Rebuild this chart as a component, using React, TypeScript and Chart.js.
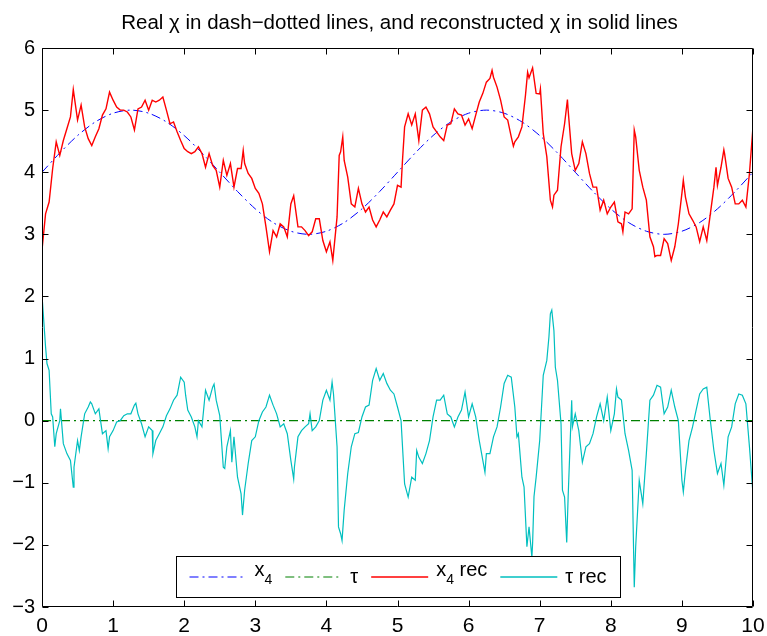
import React, { useEffect, useRef } from "react";
import { Chart, registerables } from "chart.js";

Chart.register(...registerables);

const TITLE = "Real χ in dash−dotted lines, and reconstructed χ in solid lines";
const X_TICKS = [0, 1, 2, 3, 4, 5, 6, 7, 8, 9, 10];
const Y_TICKS = [-3, -2, -1, 0, 1, 2, 3, 4, 5, 6];

const REAL_T = [0, 0.25, 0.5, 0.75, 1, 1.25, 1.5, 1.75, 2, 2.25, 2.5, 2.75, 3, 3.25, 3.5, 3.75, 4, 4.25, 4.5, 4.75, 5,
  5.25, 5.5, 5.75, 6, 6.25, 6.5, 6.75, 7, 7.25, 7.5, 7.75, 8, 8.25, 8.5, 8.75, 9, 9.25, 9.5, 9.75, 10];
const X4_REAL = [4.0, 4.31, 4.59, 4.81, 4.95, 5.0, 4.95, 4.81, 4.59, 4.31, 4.0, 3.69, 3.41, 3.19, 3.05, 3.0, 3.05, 3.19, 3.41, 3.69, 4.0,
  4.31, 4.59, 4.81, 4.95, 5.0, 4.95, 4.81, 4.59, 4.31, 4.0, 3.69, 3.41, 3.19, 3.05, 3.0, 3.05, 3.19, 3.41, 3.69, 4.0];

const TAU_REAL_T = [0, 10];
const TAU_REAL = [0, 0];

const X4_REC: [number, number][] = [
  [0, 2.75], [0.05, 3.33], [0.1, 3.52], [0.15, 4.06], [0.2, 4.49], [0.25, 4.27], [0.3, 4.51], [0.35, 4.7], [0.4, 4.89], [0.44, 5.33],
  [0.5, 4.84], [0.55, 5.08], [0.6, 4.73], [0.65, 4.54], [0.7, 4.43], [0.75, 4.57], [0.8, 4.7], [0.85, 4.92], [0.9, 5.02], [0.95, 5.29],
  [1.0, 5.16], [1.05, 5.05], [1.1, 5.0], [1.15, 5.0], [1.2, 4.97], [1.25, 4.89], [1.3, 4.68], [1.35, 5.02], [1.4, 5.05], [1.45, 5.16],
  [1.5, 5.0], [1.55, 5.16], [1.6, 5.13], [1.65, 5.16], [1.7, 5.21], [1.75, 5.0], [1.8, 4.78], [1.85, 4.81], [1.9, 4.65], [1.95, 4.51],
  [2.0, 4.38], [2.05, 4.33], [2.1, 4.3], [2.15, 4.33], [2.2, 4.41], [2.25, 4.3], [2.3, 4.08], [2.35, 4.3], [2.4, 4.11], [2.45, 4.03],
  [2.5, 3.76], [2.55, 4.19], [2.6, 3.95], [2.65, 4.14], [2.7, 3.76], [2.75, 4.06], [2.8, 4.06], [2.83, 4.35], [2.85, 4.14], [2.9, 3.98],
  [2.95, 3.9], [3.0, 3.74], [3.05, 3.66], [3.1, 3.49], [3.15, 3.12], [3.2, 2.72], [3.25, 3.06], [3.3, 2.96], [3.35, 3.17], [3.4, 3.12],
  [3.45, 2.96], [3.5, 3.49], [3.54, 3.62], [3.6, 3.12], [3.65, 3.12], [3.7, 3.06], [3.75, 2.98], [3.8, 3.04], [3.85, 3.25], [3.9, 3.25],
  [3.95, 2.9], [4.0, 2.72], [4.05, 2.88], [4.09, 2.58], [4.15, 3.28], [4.18, 4.27], [4.2, 4.33], [4.23, 4.57], [4.25, 4.19], [4.3, 3.92],
  [4.35, 3.49], [4.4, 3.44], [4.45, 3.74], [4.5, 3.49], [4.55, 3.36], [4.6, 3.44], [4.65, 3.23], [4.7, 3.12], [4.75, 3.23], [4.8, 3.36],
  [4.85, 3.28], [4.9, 3.39], [4.95, 3.49], [5.0, 3.79], [5.05, 3.76], [5.07, 4.19], [5.1, 4.73], [5.15, 4.94], [5.2, 4.76], [5.25, 4.94],
  [5.3, 4.51], [5.35, 5.0], [5.4, 5.05], [5.45, 4.94], [5.5, 4.73], [5.55, 4.65], [5.6, 4.57], [5.65, 4.51], [5.7, 4.76], [5.75, 4.78],
  [5.8, 5.02], [5.85, 4.94], [5.9, 4.92], [5.95, 4.76], [6.0, 4.86], [6.05, 4.7], [6.1, 4.92], [6.15, 5.13], [6.2, 5.27], [6.25, 5.45],
  [6.3, 5.51], [6.33, 5.64], [6.35, 5.53], [6.4, 5.37], [6.45, 5.16], [6.5, 4.89], [6.55, 4.84], [6.6, 4.57], [6.63, 4.42], [6.65, 4.49],
  [6.7, 4.57], [6.75, 4.73], [6.8, 5.24], [6.83, 5.61], [6.85, 5.52], [6.9, 5.68], [6.95, 5.27], [7.0, 5.26], [7.01, 5.34], [7.05, 4.62],
  [7.1, 4.25], [7.15, 3.55], [7.18, 3.44], [7.2, 3.63], [7.25, 3.71], [7.3, 4.41], [7.35, 4.78], [7.39, 5.17], [7.4, 5.0], [7.45, 4.3],
  [7.5, 4.03], [7.55, 4.14], [7.6, 4.49], [7.65, 4.3], [7.7, 3.98], [7.75, 3.76], [7.8, 3.76], [7.85, 3.39], [7.9, 3.55], [7.95, 3.33],
  [8.0, 3.44], [8.05, 3.52], [8.1, 3.2], [8.15, 3.17], [8.17, 3.04], [8.2, 3.36], [8.25, 3.33], [8.3, 3.41], [8.33, 4.68], [8.35, 4.57],
  [8.4, 4.03], [8.45, 3.76], [8.5, 3.55], [8.55, 2.96], [8.6, 2.8], [8.62, 2.64], [8.65, 2.66], [8.7, 2.66], [8.75, 2.93], [8.8, 2.85],
  [8.85, 2.58], [8.9, 2.8], [8.95, 3.17], [9.0, 3.66], [9.02, 3.87], [9.05, 3.6], [9.1, 3.33], [9.15, 3.23], [9.2, 3.12], [9.25, 2.88],
  [9.3, 3.12], [9.35, 2.9], [9.4, 3.33], [9.45, 3.76], [9.48, 4.08], [9.5, 3.79], [9.55, 4.08], [9.59, 4.36], [9.6, 4.3], [9.65, 3.9],
  [9.7, 3.76], [9.75, 3.49], [9.8, 3.49], [9.85, 3.55], [9.9, 3.44], [9.95, 3.98], [10, 4.73],
];

const TAU_REC: [number, number][] = [
  [0, 2.02], [0.05, 1.19], [0.07, 0.92], [0.1, 0.81], [0.13, 0.11], [0.15, 0.06], [0.18, -0.42], [0.2, -0.21], [0.25, 0.0], [0.26, 0.19],
  [0.3, -0.37], [0.35, -0.53], [0.4, -0.64], [0.44, -1.07], [0.45, -0.75], [0.5, -0.32], [0.525, -0.48], [0.55, -0.26], [0.6, 0.11], [0.65, 0.22],
  [0.68, 0.3], [0.7, 0.27], [0.75, 0.11], [0.8, 0.19], [0.85, -0.21], [0.9, -0.16], [0.93, -0.45], [0.95, -0.26], [1.0, -0.16], [1.05, -0.02],
  [1.1, 0.0], [1.15, 0.08], [1.2, 0.11], [1.25, 0.11], [1.3, 0.25], [1.32, 0.28], [1.35, 0.11], [1.4, -0.05], [1.45, -0.26], [1.5, -0.1],
  [1.55, -0.16], [1.56, -0.53], [1.6, -0.32], [1.65, -0.21], [1.7, -0.1], [1.75, 0.08], [1.8, 0.19], [1.85, 0.33], [1.9, 0.41], [1.95, 0.7],
  [2.0, 0.62], [2.02, 0.41], [2.05, 0.17], [2.1, 0.06], [2.15, -0.1], [2.18, -0.26], [2.2, 0.0], [2.25, -0.1], [2.3, 0.49], [2.35, 0.33],
  [2.4, 0.54], [2.42, 0.59], [2.45, 0.33], [2.5, 0.08], [2.55, -0.75], [2.57, -0.77], [2.6, -0.42], [2.65, -0.16], [2.67, -0.67], [2.7, -0.26],
  [2.75, -0.91], [2.8, -1.18], [2.82, -1.52], [2.85, -1.12], [2.9, -0.69], [2.95, -0.32], [3.0, -0.26], [3.05, 0.0], [3.1, 0.14], [3.15, 0.22],
  [3.2, 0.41], [3.25, 0.25], [3.3, 0.11], [3.35, -0.1], [3.4, -0.05], [3.45, -0.21], [3.5, -0.64], [3.54, -0.94], [3.55, -0.75], [3.6, -0.26],
  [3.65, -0.16], [3.7, -0.1], [3.75, -0.05], [3.77, 0.11], [3.8, -0.16], [3.85, -0.1], [3.9, 0.0], [3.95, 0.33], [4.0, 0.49], [4.05, 0.33],
  [4.08, 0.62], [4.1, 0.43], [4.15, -0.42], [4.17, -1.71], [4.2, -1.82], [4.22, -1.93], [4.25, -1.44], [4.3, -0.85], [4.35, -0.42], [4.4, -0.21],
  [4.45, -0.19], [4.5, 0.06], [4.55, 0.22], [4.6, 0.25], [4.65, 0.65], [4.7, 0.84], [4.75, 0.65], [4.8, 0.76], [4.85, 0.6], [4.9, 0.49],
  [4.95, 0.43], [5.0, 0.22], [5.05, 0.0], [5.1, -1.02], [5.15, -1.23], [5.2, -0.91], [5.25, -0.96], [5.27, -0.48], [5.3, -0.59], [5.35, -0.69],
  [5.4, -0.53], [5.45, -0.32], [5.5, 0.06], [5.55, 0.33], [5.6, 0.33], [5.65, 0.41], [5.7, 0.11], [5.75, 0.06], [5.8, -0.1], [5.85, 0.06],
  [5.9, 0.17], [5.95, 0.46], [6.0, 0.06], [6.05, 0.27], [6.1, 0.06], [6.15, -0.32], [6.2, -0.64], [6.23, -0.83], [6.25, -0.53], [6.3, -0.53],
  [6.35, -0.26], [6.4, -0.1], [6.45, 0.22], [6.5, 0.6], [6.55, 0.73], [6.6, 0.7], [6.65, 0.22], [6.68, -0.26], [6.7, -0.21], [6.75, -0.91],
  [6.78, -1.07], [6.8, -1.55], [6.82, -2.03], [6.85, -1.71], [6.89, -2.2], [6.9, -1.98], [6.92, -1.22], [6.95, -0.91], [7.0, -0.32], [7.05, 0.73],
  [7.1, 0.97], [7.13, 1.35], [7.15, 1.72], [7.17, 1.78], [7.2, 1.45], [7.22, 0.86], [7.25, 0.65], [7.3, -0.05], [7.32, -1.12], [7.35, -1.23],
  [7.38, -1.96], [7.4, -1.23], [7.45, 0.33], [7.46, -0.1], [7.5, 0.11], [7.55, -0.16], [7.6, -0.67], [7.65, -0.42], [7.7, -0.37], [7.75, -0.21],
  [7.8, 0.06], [7.85, 0.27], [7.9, 0.0], [7.95, 0.38], [8.0, -0.16], [8.05, 0.11], [8.08, 0.51], [8.1, 0.38], [8.15, 0.33], [8.2, -0.21],
  [8.25, -0.48], [8.3, -0.8], [8.33, -2.68], [8.35, -2.03], [8.4, -0.96], [8.45, -1.34], [8.5, -0.53], [8.55, 0.33], [8.6, 0.41], [8.65, 0.57],
  [8.7, 0.54], [8.75, 0.11], [8.8, 0.22], [8.85, 0.49], [8.9, 0.22], [8.95, 0.0], [9.0, -0.96], [9.02, -1.15], [9.05, -0.8], [9.1, -0.32],
  [9.15, -0.1], [9.2, 0.17], [9.25, 0.43], [9.3, 0.51], [9.35, 0.54], [9.4, 0.0], [9.45, -0.48], [9.5, -0.85], [9.55, -0.69], [9.59, -1.04],
  [9.6, -0.91], [9.65, -0.26], [9.7, -0.1], [9.75, 0.27], [9.8, 0.43], [9.85, 0.41], [9.9, 0.27], [9.95, -0.42], [10, -1.18],
];

const BLUE = "rgb(0, 0, 255)";
const GREEN = "rgb(0, 128, 0)";
const RED = "rgb(255, 0, 0)";
const CYAN = "rgb(0, 191, 191)";
const DASH_DOT = [9, 4, 2, 4];
const FONT_FAMILY = '"Liberation Sans", Arial, Helvetica, sans-serif';

type LegendItem = { main: string; sub?: string; rest?: string; color: string; dash: number[]; width: number };
const LEGEND_ITEMS: LegendItem[] = [
  { main: "x", sub: "4", rest: "", color: BLUE, dash: DASH_DOT, width: 1.2 },
  { main: "τ", color: GREEN, dash: DASH_DOT, width: 1.2 },
  { main: "x", sub: "4", rest: " rec", color: RED, dash: [], width: 1.4 },
  { main: "τ rec", color: CYAN, dash: [], width: 1.3 },
];

function drawFrame(chart: any) {
  const ctx: CanvasRenderingContext2D = chart.ctx;
  const { left, right, top, bottom } = chart.chartArea;
  const xs = chart.scales.x;
  const ys = chart.scales.y;
  ctx.save();
  ctx.globalAlpha = 1;
  ctx.strokeStyle = "rgb(0, 0, 0)";
  ctx.lineWidth = 1;
  ctx.setLineDash([]);
  const L = Math.round(left) + 0.5;
  const R = Math.round(right) - 0.5;
  const T = Math.round(top) + 0.5;
  const B = Math.round(bottom) - 0.5;
  const tl = 6;
  ctx.beginPath();
  for (const v of X_TICKS) {
    const px = Math.round(xs.getPixelForValue(v)) + 0.5;
    ctx.moveTo(px, B);
    ctx.lineTo(px, B - tl);
    ctx.moveTo(px, T);
    ctx.lineTo(px, T + tl);
  }
  for (const v of Y_TICKS) {
    const py = Math.round(ys.getPixelForValue(v)) + 0.5;
    ctx.moveTo(L, py);
    ctx.lineTo(L + tl, py);
    ctx.moveTo(R, py);
    ctx.lineTo(R - tl, py);
  }
  ctx.rect(L, T, R - L, B - T);
  ctx.stroke();

  // title
  ctx.fillStyle = "rgb(0, 0, 0)";
  ctx.font = `20.5px ${FONT_FAMILY}`;
  ctx.textAlign = "center";
  ctx.textBaseline = "alphabetic";
  ctx.fillText(TITLE, (left + right) / 2 + 2, 29);
  ctx.restore();
}

function drawLegend(chart: any) {
  const ctx: CanvasRenderingContext2D = chart.ctx;
  const { left, right, bottom } = chart.chartArea;
  const mainFont = `20px ${FONT_FAMILY}`;
  const subFont = `14px ${FONT_FAMILY}`;
  const sampleLen = 57;
  const gapST = 8;
  const gapNext = 13;
  const padL = 13;
  const padR = 14;
  ctx.save();
  const widths = LEGEND_ITEMS.map((it) => {
    ctx.font = mainFont;
    let w = ctx.measureText(it.main).width + ctx.measureText(it.rest || "").width;
    if (it.sub) {
      ctx.font = subFont;
      w += ctx.measureText(it.sub).width;
    }
    return w;
  });
  let total = padL + padR + gapNext * (LEGEND_ITEMS.length - 1);
  widths.forEach((w) => (total += sampleLen + gapST + w));
  total = Math.round(total);
  const boxH = 41;
  const boxLeft = Math.round((left + right) / 2 - total / 2) + 0.5;
  const boxBottom = Math.round(bottom - 10) + 0.5;
  const boxTop = boxBottom - boxH;
  ctx.setLineDash([]);
  ctx.lineWidth = 1;
  ctx.fillStyle = "rgb(255, 255, 255)";
  ctx.fillRect(boxLeft, boxTop, total, boxH);
  ctx.strokeStyle = "rgb(0, 0, 0)";
  ctx.strokeRect(boxLeft, boxTop, total, boxH);
  ctx.restore();

  const lineY = Math.round(boxTop + 20);
  let cx = boxLeft + padL;
  LEGEND_ITEMS.forEach((it, i) => {
    ctx.save();
    ctx.beginPath();
    ctx.lineWidth = it.width;
    ctx.strokeStyle = it.color;
    ctx.setLineDash(it.dash);
    ctx.moveTo(cx, lineY);
    ctx.lineTo(cx + sampleLen, lineY);
    ctx.stroke();
    ctx.restore();
    cx += sampleLen + gapST;
    ctx.save();
    ctx.fillStyle = "rgb(0, 0, 0)";
    ctx.textAlign = "left";
    ctx.textBaseline = "alphabetic";
    if (it.sub) {
      const base = lineY - 1;
      ctx.font = mainFont;
      ctx.fillText(it.main, cx, base);
      let tx = cx + ctx.measureText(it.main).width;
      ctx.font = subFont;
      ctx.fillText(it.sub, tx, base + 8);
      tx += ctx.measureText(it.sub).width;
      ctx.font = mainFont;
      ctx.fillText(it.rest || "", tx, base);
    } else {
      ctx.font = mainFont;
      ctx.fillText(it.main, cx, lineY + 6);
    }
    ctx.restore();
    cx += widths[i] + gapNext;
  });
}

const framePlugin = {
  id: "matlabFrame",
  afterDraw(chart: any) {
    drawLegend(chart);
    drawFrame(chart);
  },
};

export default function App() {
  const ref = useRef<HTMLCanvasElement | null>(null);
  useEffect(() => {
    document.body.style.margin = "0";
    const canvas = ref.current;
    if (!canvas) return;
    const fmt = (v: any) => {
      const n = Number(v);
      return n < 0 ? "\u2212" + Math.abs(n) : String(n);
    };
    const chart = new Chart(canvas, {
      type: "line",
      data: {
        datasets: [
          {
            label: "x4",
            data: REAL_T.map((t, i) => ({ x: t, y: X4_REAL[i] })),
            borderColor: BLUE,
            borderWidth: 1,
            borderDash: DASH_DOT,
            pointRadius: 0,
            tension: 0.3,
            order: 3,
          },
          {
            label: "tau",
            data: TAU_REAL_T.map((t, i) => ({ x: t, y: TAU_REAL[i] })),
            borderColor: GREEN,
            borderWidth: 1.2,
            borderDash: DASH_DOT,
            pointRadius: 0,
            order: 2,
          },
          {
            label: "x4 rec",
            data: X4_REC.map(([t, v]) => ({ x: t, y: v })),
            borderColor: RED,
            borderWidth: 1.4,
            pointRadius: 0,
            tension: 0,
            order: 1,
          },
          {
            label: "tau rec",
            data: TAU_REC.map(([t, v]) => ({ x: t, y: v })),
            borderColor: CYAN,
            borderWidth: 1.2,
            pointRadius: 0,
            tension: 0,
            order: 0,
          },
        ],
      },
      options: {
        animation: false,
        responsive: false,
        devicePixelRatio: 1,
        layout: { padding: { top: 48, right: 14, left: 0, bottom: 0 } },
        plugins: {
          legend: { display: false },
          title: { display: false },
          tooltip: { enabled: false },
        },
        scales: {
          x: {
            type: "linear",
            min: 0,
            max: 10,
            grid: { display: false, drawTicks: false },
            border: { display: false },
            ticks: {
              stepSize: 1,
              color: "#000",
              padding: 7,
              maxRotation: 0,
              font: { family: FONT_FAMILY, size: 21 },
              callback: fmt,
            },
            afterFit: (s: any) => {
              s.height = 29;
              s.paddingLeft = 0;
              s.paddingRight = 0;
            },
          },
          y: {
            type: "linear",
            min: -3,
            max: 6,
            grid: { display: false, drawTicks: false },
            border: { display: false },
            ticks: {
              stepSize: 1,
              color: "#000",
              padding: 7,
              font: { family: FONT_FAMILY, size: 20 },
              callback: fmt,
            },
            afterFit: (s: any) => {
              s.width = 42;
              s.paddingTop = 0;
              s.paddingBottom = 0;
            },
          },
        },
      },
      plugins: [framePlugin],
    });
    return () => chart.destroy();
  }, []);
  return (
    <canvas ref={ref} width={767} height={636} style={{ display: "block", width: 767, height: 636 }} />
  );
}
